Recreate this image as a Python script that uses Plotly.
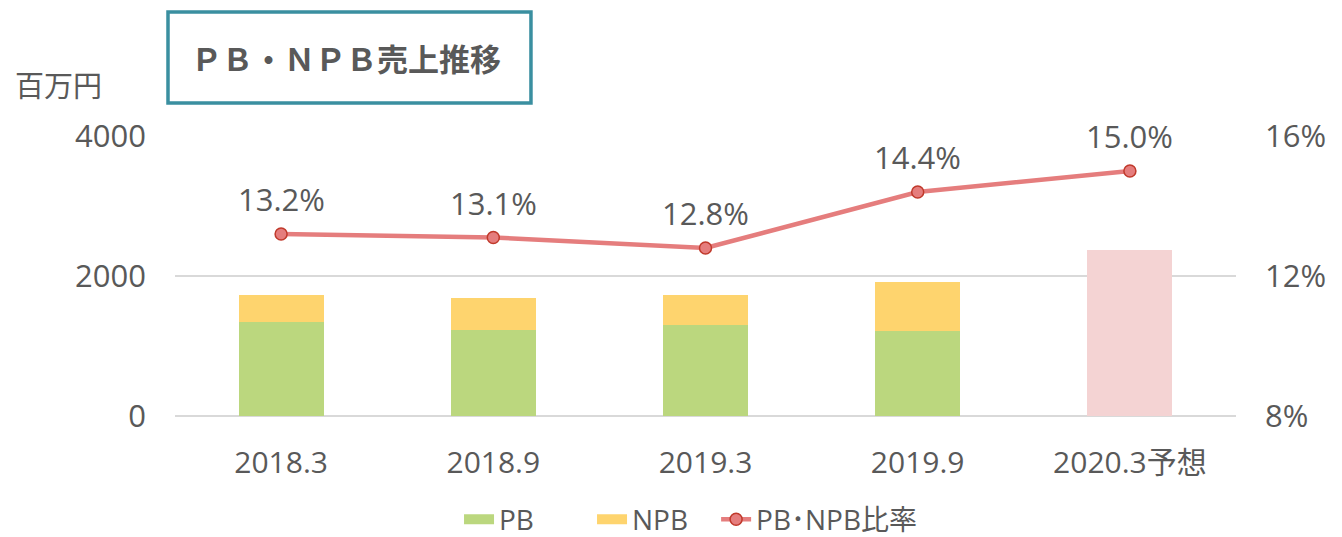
import plotly.graph_objects as go

categories = ["2018.3", "2018.9", "2019.3", "2019.9", "2020.3予想"]
pb_values = [1343, 1229, 1300, 1214, None]
npb_values = [386, 457, 429, 700, None]
forecast_total = [None, None, None, None, 2371]
ratio_values = [13.2, 13.1, 12.8, 14.4, 15.0]
ratio_labels = ["13.2%", "13.1%", "12.8%", "14.4%", "15.0%"]
y2_ticks = [8, 12, 16]
y2_ticktext = ["8%", "12%", "16%"]

FONT = "Open Sans, Noto Sans CJK JP"
CJK = "Noto Sans CJK JP"
GRAY = "#595959"
C_PB, C_NPB, C_FC, C_LINE = "#BBD77E", "#FED46E", "#F4D3D3", "#E57D7D"

xpos = list(range(len(categories)))

fig = go.Figure()
fig.add_trace(go.Bar(x=xpos, y=pb_values, name="PB", marker_color=C_PB,
                     width=0.4, marker_line_width=0, showlegend=False))
fig.add_trace(go.Bar(x=xpos, y=npb_values, name="NPB", marker_color=C_NPB,
                     width=0.4, marker_line_width=0, showlegend=False))
fig.add_trace(go.Bar(x=xpos, y=forecast_total, name="予想", marker_color=C_FC,
                     width=0.4, marker_line_width=0, showlegend=False))
fig.add_trace(go.Scatter(x=xpos, y=ratio_values, name="PB･NPB比率", yaxis="y2",
                         mode="lines+markers", showlegend=False,
                         line=dict(color=C_LINE, width=4.5),
                         marker=dict(size=12, color=C_LINE,
                                     line=dict(color="#C0392B", width=1.5))))

# legend entries (no drawn marks)
fig.add_trace(go.Scatter(x=[None], y=[None], name="PB", mode="lines",
                         line=dict(color=C_PB, width=17), legend="legend"))
fig.add_trace(go.Scatter(x=[None], y=[None], name="NPB", mode="lines",
                         line=dict(color=C_NPB, width=17), legend="legend"))
fig.add_trace(go.Scatter(x=[None], y=[None], name="PB･NPB比率", mode="lines+markers",
                         line=dict(color=C_LINE, width=4.5), legend="legend2",
                         marker=dict(size=12, color=C_LINE,
                                     line=dict(color="#C0392B", width=1.5))))

for xp, v, t in zip(xpos, ratio_values, ratio_labels):
    fig.add_annotation(x=xp, y=v, xref="x", yref="y2", text=t, showarrow=False,
                       yanchor="bottom", yshift=12,
                       font=dict(family=FONT, size=31, color=GRAY))

fig.add_shape(type="rect", xref="paper", yref="paper",
              x0=-0.0066, x1=0.3355, y0=1.118, y1=1.443,
              line=dict(color="#3A8FA0", width=3.5), fillcolor="white", layer="above")
fig.add_annotation(xref="paper", yref="paper", x=0.161, y=1.28,
                   text="<b>ＰＢ・ＮＰＢ売上推移</b>", showarrow=False,
                   xanchor="center", yanchor="middle",
                   font=dict(family=CJK, size=31, color=GRAY))
fig.add_annotation(xref="paper", yref="paper", x=-0.11, y=1.186,
                   text="百万円", showarrow=False, xanchor="center", yanchor="middle",
                   font=dict(family=CJK, size=29, color=GRAY))

fig.update_layout(
    width=1334, height=529,
    margin=dict(l=167, r=106, t=128, b=121, autoexpand=False),
    paper_bgcolor="white", plot_bgcolor="white",
    barmode="stack",
    font=dict(family=FONT, size=28, color=GRAY),
    xaxis=dict(range=[-0.5, len(categories) - 0.5], tickvals=xpos, ticktext=categories,
               showgrid=False, showline=False, ticks="", zeroline=False,
               ticklabelstandoff=26, tickfont=dict(size=30, color=GRAY)),
    yaxis=dict(range=[0, 4000], tickvals=[0, 2000, 4000], showgrid=True,
               gridcolor="#D9D9D9", gridwidth=1.5, zeroline=True,
               zerolinecolor="#D9D9D9", zerolinewidth=2, showline=False,
               ticks="", ticklabelstandoff=28, tickfont=dict(size=31, color=GRAY)),
    yaxis2=dict(range=[8, 16], tickvals=y2_ticks, ticktext=y2_ticktext, overlaying="y",
                side="right", showgrid=False, zeroline=False, showline=False,
                ticks="", ticklabelstandoff=28, tickfont=dict(size=31, color=GRAY)),
    legend=dict(orientation="h", x=0.2677, xanchor="left", y=-0.37, yanchor="middle",
                font=dict(size=28, color=GRAY), traceorder="normal",
                entrywidth=88, entrywidthmode="pixels"),
    legend2=dict(orientation="h", x=0.51, xanchor="left", y=-0.37, yanchor="middle",
                 font=dict(size=28, color=GRAY)),
    showlegend=True,
)

fig.write_html("out.html")
